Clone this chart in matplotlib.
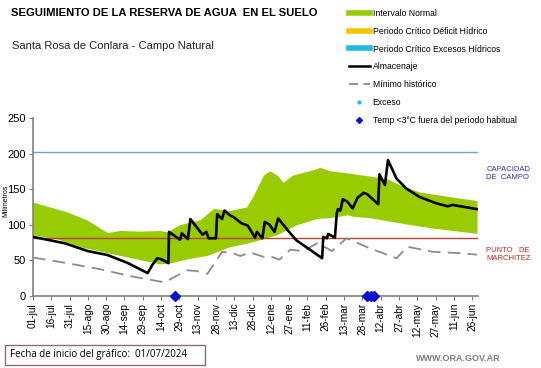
import matplotlib
matplotlib.use("Agg")
import matplotlib.pyplot as plt
from matplotlib.lines import Line2D
from matplotlib.patches import Rectangle
import numpy as np

plt.rcParams['font.family'] = ['Liberation Sans', 'DejaVu Sans']

# ---- data (day offsets since 01-jul-2024) ----
upper_days = [0, 28, 44, 61, 71, 88, 104, 110, 120, 137, 148, 161, 175, 180, 189, 194, 200, 205, 213, 233, 235, 243, 262, 290, 301, 317, 344, 364]
upper_vals = [132, 118, 107, 89, 92, 91, 92, 90, 100, 107, 123, 120, 125, 139, 170, 176, 170, 160, 170, 179, 181, 176, 172, 165, 156, 146, 139, 134]

lower_days = [0, 20, 39, 63, 82, 104, 112, 126, 143, 161, 175, 186, 200, 216, 233, 243, 258, 262, 276, 303, 325, 344, 364]
lower_vals = [86, 80, 69, 60, 53, 45, 46, 52, 57, 69, 74, 79, 86, 100, 109, 110, 114, 112, 110, 102, 96, 92, 88]

min_days = [0, 28, 55, 82, 108, 126, 134, 143, 155, 164, 170, 178, 189, 194, 202, 211, 221, 233, 241, 245, 257, 276, 298, 307, 328, 350, 364]
min_vals = [54, 46, 37.5, 27, 19, 36, 35, 31, 62, 60, 56, 61, 55, 56, 51, 65, 63, 74, 67, 63, 81, 67, 53, 69, 62, 60, 58]

alm_days = [0, 26, 45, 61, 78, 94, 98, 102, 106, 111, 111.5, 120.5, 122, 127, 129, 139, 142, 144, 150, 151, 155, 157, 161, 165, 171, 176, 182,
            183.6, 188, 190, 194, 198, 201, 209, 216, 227, 237, 238, 241, 242, 247.5, 249, 250, 252, 254, 258, 262, 265, 266, 269, 271, 274,
            283, 284, 288.5, 291, 298, 306, 317, 331, 340, 344, 347, 364]
alm_vals = [83, 74, 63, 57.5, 46, 32, 44, 53, 51, 46, 90, 79, 88, 80, 108, 86, 90, 81, 81, 115, 108, 120, 114, 110, 102, 99, 82,
            90, 81, 104, 100, 90, 109, 92, 78, 65, 53, 83, 81, 87, 82, 116, 122, 120, 136, 132, 123, 134, 138, 142, 145, 143,
            129, 171, 156, 191, 165, 151, 139, 130, 126, 128, 127, 122]

temp_days = [116.5, 274, 277, 279.5]
temp_vals = [0, 0, 0, 0]

capacidad = 203
marchitez = 81

tick_days = list(range(0, 361, 15))
tick_labels = ["01-jul", "16-jul", "31-jul", "15-ago", "30-ago", "14-sep", "29-sep", "14-oct", "29-oct", "13-nov",
               "28-nov", "13-dic", "28-dic", "12-ene", "27-ene", "11-feb", "26-feb", "13-mar", "28-mar", "12-abr",
               "27-abr", "12-may", "27-may", "11-jun", "26-jun"]

# ---- band on a common grid (linear interpolation between read points) ----
grid = np.arange(0, 365)
up = np.interp(grid, upper_days, upper_vals)
lo = np.interp(grid, lower_days, lower_vals)

fig = plt.figure(figsize=(5.41, 3.68), dpi=100)
ax = fig.add_axes([0.061, 0.196, 0.823, 0.483])

green = '#99CC00'
ax.fill_between(grid, lo, up, color=green, lw=0, zorder=1)
ax.axhline(capacidad, color='#7F9CC8', lw=1.0, zorder=2)
ax.axhline(marchitez, color='#B5473A', lw=1.0, zorder=2)
ax.plot(min_days, min_vals, color='#8C8C8C', lw=1.3, dashes=(7, 4), zorder=3)
ax.plot(alm_days, alm_vals, color='black', lw=1.9, zorder=4)
ax.plot(temp_days, temp_vals, ls='none', marker='D', ms=5, color='#1010CC', zorder=6, clip_on=False)

ax.set_xlim(0, 365)
ax.set_ylim(0, 250)
ax.set_yticks([0, 50, 100, 150, 200, 250])
ax.set_xticks(tick_days)
ax.set_xticklabels(tick_labels, rotation=90, fontsize=7.3)
ax.tick_params(axis='y', labelsize=8, length=3, color='#808080', pad=2)
ax.tick_params(axis='x', length=3, color='#808080', pad=2)
for s in ['top', 'right']:
    ax.spines[s].set_visible(False)
for s in ['left', 'bottom']:
    ax.spines[s].set_color('#808080')
    ax.spines[s].set_linewidth(1.2)
ax.set_ylabel('Milimetros', fontsize=5, labelpad=-4)
ax.yaxis.set_label_coords(-0.054, 0.535)

# labels at right
fig.text(0.899, 0.528, 'CAPACIDAD\nDE  CAMPO', color='#3333AA', fontsize=5.5, va='center', ha='left', linespacing=1.2)
fig.text(0.899, 0.308, 'PUNTO   DE\nMARCHITEZ', color='#CC2222', fontsize=5.5, va='center', ha='left', linespacing=1.2)

# titles
fig.text(0.021, 0.965, 'SEGUIMIENTO DE LA RESERVA DE AGUA  EN EL SUELO', fontsize=8.1, fontweight='bold', va='center', ha='left')
fig.text(0.022, 0.875, 'Santa Rosa de Conlara - Campo Natural', fontsize=8, va='center', ha='left', color='#222222')

# legend
handles = [
    Line2D([], [], color=green, lw=4),
    Line2D([], [], color='#F5C400', lw=4),
    Line2D([], [], color='#1EB8EA', lw=4),
    Line2D([], [], color='black', lw=1.8),
    Line2D([], [], color='#8C8C8C', lw=1.3, dashes=(5, 3)),
    Line2D([], [], ls='none', marker='o', ms=2, color='#1EB8EA'),
    Line2D([], [], ls='none', marker='D', ms=3, color='#1010CC'),
]
labels = ['Intervalo Normal', 'Periodo Crítico Déficit Hídrico', 'Periodo Crítico Excesos Hídricos',
          'Almacenaje', 'Mínimo histórico', 'Exceso', 'Temp <3°C fuera del período habitual']
fig.legend(handles, labels, loc='upper left', bbox_to_anchor=(0.638, 0.986), frameon=False, fontsize=6.2,
           handlelength=2.5, handletextpad=0.3, labelspacing=1.04, borderaxespad=0)

# bottom box
fig.patches.append(Rectangle((0.009, 0.008), 0.370, 0.055, transform=fig.transFigure,
                             fill=False, edgecolor='#8B6F6F', lw=1.0))
fig.text(0.018, 0.036, 'Fecha de inicio del gráfico:  01/07/2024', fontsize=7, va='center', ha='left', family='Open Sans')
fig.text(0.925, 0.025, 'WWW.ORA.GOV.AR', fontsize=6.5, color='#7F7F7F', fontweight='bold', va='center', ha='right')

fig.savefig('out.png', dpi=100)
